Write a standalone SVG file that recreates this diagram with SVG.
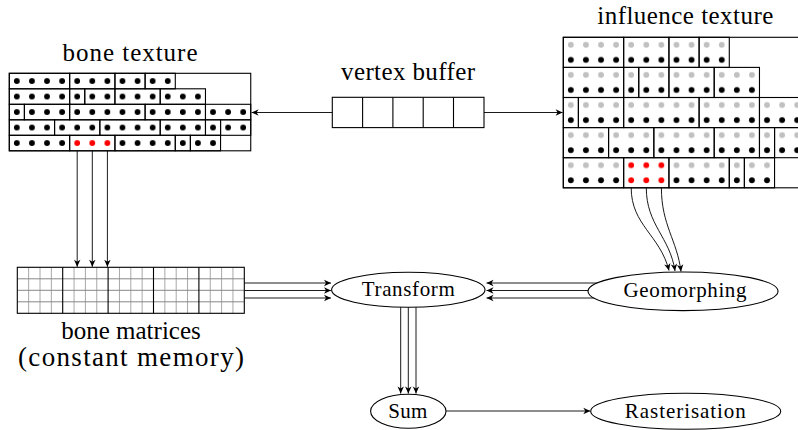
<svg xmlns="http://www.w3.org/2000/svg" width="798" height="430" viewBox="0 0 798 430">
  <style>
    text { font-family: "Liberation Serif", serif; fill: #000; text-anchor: middle; }
    .lbl { font-size: 25px; }
    .nl { font-size: 21px; }
    .box { fill: none; stroke: #000; stroke-width: 1.1; }
    .ell { fill: #fff; stroke: #000; stroke-width: 1.1; }
    .edge { fill: none; stroke: #000; stroke-width: 0.9; marker-end: url(#ah); }
  </style>
  <defs>
    <!-- one dot per texel; bone texture rows are 15.5 high -->
    <pattern id="bonePat" patternUnits="userSpaceOnUse" x="9.3" y="73.3" width="15.09" height="15.5">
      <circle cx="7.545" cy="7.75" r="2.9" fill="#000"/>
    </pattern>
    <pattern id="boneRed" patternUnits="userSpaceOnUse" x="9.3" y="73.3" width="15.09" height="15.5">
      <circle cx="7.545" cy="7.75" r="2.9" fill="#f00"/>
    </pattern>
    <!-- influence texels: weight (grey) over index (black) -->
    <pattern id="inflPat" patternUnits="userSpaceOnUse" x="563.3" y="37.3" width="15.09" height="30.1">
      <circle cx="7.545" cy="7.5" r="2.9" fill="#c0c0c0"/>
      <circle cx="7.545" cy="22.5" r="2.9" fill="#000"/>
    </pattern>
    <pattern id="inflRed" patternUnits="userSpaceOnUse" x="563.3" y="37.3" width="15.09" height="30.1">
      <circle cx="7.545" cy="7.5" r="2.9" fill="#f00"/>
      <circle cx="7.545" cy="22.5" r="2.9" fill="#f00"/>
    </pattern>
    <marker id="ah" viewBox="-8 -4 9 8" refX="0" refY="0" markerWidth="9" markerHeight="8" markerUnits="userSpaceOnUse" orient="auto">
      <path d="M0,0 L-7,-3.2 L-5,0 L-7,3.2 Z" fill="#000"/>
    </marker>
  </defs>

  <rect width="798" height="430" fill="#fff"/>

  <g id="connectors">
    <path class="edge" d="M332.3,112.5 H251.6"/>
    <path class="edge" d="M484,112.5 H562.6"/>
    <path class="edge" d="M77.2,150.8 V266.8"/>
    <path class="edge" d="M92.3,150.8 V266.8"/>
    <path class="edge" d="M107.4,150.8 V266.8"/>
    <path class="edge" d="M244.3,283 H331"/>
    <path class="edge" d="M244.3,290.5 H331"/>
    <path class="edge" d="M244.3,298 H331"/>
    <path class="edge" d="M600,283 H486.5"/>
    <path class="edge" d="M600,290.5 H486.5"/>
    <path class="edge" d="M600,298 H486.5"/>
    <path class="edge" d="M400.7,300 V393.6"/>
    <path class="edge" d="M408.3,300 V393.6"/>
    <path class="edge" d="M416,300 V393.6"/>
    <path class="edge" d="M631.2,187.8 C631.2,225 660,235 669,270.5"/>
    <path class="edge" d="M646.3,187.8 C646.3,225 670,237 675,271"/>
    <path class="edge" d="M661.4,187.8 C661.4,225 677,240 681,271.5"/>
    <path class="edge" d="M446,411 H590.3"/>
  </g>

  <g id="bone-texture">
    <text class="lbl" x="130" y="60.5" textLength="135" lengthAdjust="spacing">bone texture</text>
    <g fill="url(#bonePat)" stroke="#000" stroke-width="1.1">
      <rect x="9.3" y="73.3" width="60.36" height="15.5"/>
      <rect x="69.66" y="73.3" width="45.27" height="15.5"/>
      <rect x="114.93" y="73.3" width="30.18" height="15.5"/>
      <rect x="145.11" y="73.3" width="30.18" height="15.5"/>
      <rect x="9.3" y="88.8" width="60.36" height="15.5"/>
      <rect x="69.66" y="88.8" width="15.09" height="15.5"/>
      <rect x="84.75" y="88.8" width="30.18" height="15.5"/>
      <rect x="114.93" y="88.8" width="45.27" height="15.5"/>
      <rect x="160.2" y="88.8" width="45.27" height="15.5"/>
      <rect x="9.3" y="104.3" width="15.09" height="15.5"/>
      <rect x="24.39" y="104.3" width="45.27" height="15.5"/>
      <rect x="69.66" y="104.3" width="75.45" height="15.5"/>
      <rect x="145.11" y="104.3" width="60.36" height="15.5"/>
      <rect x="205.47" y="104.3" width="45.27" height="15.5"/>
      <rect x="9.3" y="119.8" width="45.27" height="15.5"/>
      <rect x="54.57" y="119.8" width="45.27" height="15.5"/>
      <rect x="99.84" y="119.8" width="60.36" height="15.5"/>
      <rect x="160.2" y="119.8" width="45.27" height="15.5"/>
      <rect x="205.47" y="119.8" width="15.09" height="15.5"/>
      <rect x="220.56" y="119.8" width="30.18" height="15.5"/>
      <rect x="9.3" y="135.3" width="60.36" height="15.5"/>
      <rect x="69.66" y="135.3" width="45.27" height="15.5" fill="url(#boneRed)"/>
      <rect x="114.93" y="135.3" width="60.36" height="15.5"/>
      <rect x="175.29" y="135.3" width="15.09" height="15.5"/>
      <rect x="190.38" y="135.3" width="30.18" height="15.5"/>
    </g>
    <rect class="box" x="9.3" y="73.3" width="241.44" height="77.5"/>
  </g>

  <g id="vertex-buffer">
    <text class="lbl" x="408" y="80" textLength="134" lengthAdjust="spacing">vertex buffer</text>
    <rect class="box" x="332.3" y="97.3" width="151.7" height="30.3"/>
    <path d="M362.6,97.3 V127.6 M392.9,97.3 V127.6 M423.2,97.3 V127.6 M453.5,97.3 V127.6" stroke="#000" stroke-width="1.1" fill="none"/>
  </g>

  <g id="influence-texture">
    <text class="lbl" x="685.3" y="24.3" textLength="176" lengthAdjust="spacing">influence texture</text>
    <g fill="url(#inflPat)" stroke="#000" stroke-width="1.1">
      <rect x="563.3" y="37.3" width="60.36" height="30.1"/>
      <rect x="623.66" y="37.3" width="45.27" height="30.1"/>
      <rect x="668.93" y="37.3" width="30.18" height="30.1"/>
      <rect x="699.11" y="37.3" width="30.18" height="30.1"/>
      <rect x="563.3" y="67.4" width="60.36" height="30.1"/>
      <rect x="623.66" y="67.4" width="15.09" height="30.1"/>
      <rect x="638.75" y="67.4" width="30.18" height="30.1"/>
      <rect x="668.93" y="67.4" width="45.27" height="30.1"/>
      <rect x="714.2" y="67.4" width="45.27" height="30.1"/>
      <rect x="563.3" y="97.5" width="15.09" height="30.1"/>
      <rect x="578.39" y="97.5" width="45.27" height="30.1"/>
      <rect x="623.66" y="97.5" width="75.45" height="30.1"/>
      <rect x="699.11" y="97.5" width="60.36" height="30.1"/>
      <rect x="759.47" y="97.5" width="45.27" height="30.1"/>
      <rect x="563.3" y="127.6" width="45.27" height="30.1"/>
      <rect x="608.57" y="127.6" width="45.27" height="30.1"/>
      <rect x="653.84" y="127.6" width="60.36" height="30.1"/>
      <rect x="714.2" y="127.6" width="45.27" height="30.1"/>
      <rect x="759.47" y="127.6" width="15.09" height="30.1"/>
      <rect x="774.56" y="127.6" width="30.18" height="30.1"/>
      <rect x="563.3" y="157.7" width="60.36" height="30.1"/>
      <rect x="623.66" y="157.7" width="45.27" height="30.1" fill="url(#inflRed)"/>
      <rect x="668.93" y="157.7" width="60.36" height="30.1"/>
      <rect x="729.29" y="157.7" width="15.09" height="30.1"/>
      <rect x="744.38" y="157.7" width="30.18" height="30.1"/>
    </g>
    <rect class="box" x="563.3" y="37.3" width="241.44" height="150.5"/>
  </g>

  <g id="bone-matrices">
    <!-- 5 matrices of 4x4 -->
    <path d="M28.65,267.3 V313.3 M40,267.3 V313.3 M51.35,267.3 V313.3 M74.05,267.3 V313.3 M85.4,267.3 V313.3 M96.75,267.3 V313.3 M119.45,267.3 V313.3 M130.8,267.3 V313.3 M142.15,267.3 V313.3 M164.85,267.3 V313.3 M176.2,267.3 V313.3 M187.55,267.3 V313.3 M210.25,267.3 V313.3 M221.6,267.3 V313.3 M232.95,267.3 V313.3" stroke="#a8a8a8" stroke-width="1" fill="none"/>
    <path d="M17.3,278.8 H244.3 M17.3,290.3 H244.3 M17.3,301.8 H244.3" stroke="#888" stroke-width="1" fill="none"/>
    <path d="M62.7,267.3 V313.3 M108.1,267.3 V313.3 M153.5,267.3 V313.3 M198.9,267.3 V313.3" stroke="#000" stroke-width="1.1" fill="none"/>
    <rect class="box" x="17.3" y="267.3" width="227" height="46"/>
    <text class="lbl" x="131" y="339">bone matrices</text>
    <text class="lbl" x="131" y="366" style="font-size:27px" textLength="226" lengthAdjust="spacing">(constant memory)</text>
  </g>

  <g id="transform">
    <ellipse class="ell" cx="408.3" cy="289.8" rx="76.7" ry="17.5"/>
    <text class="nl" x="408.3" y="296" textLength="93" lengthAdjust="spacing">Transform</text>
  </g>

  <g id="geomorphing">
    <ellipse class="ell" cx="683" cy="291.3" rx="95" ry="19.3"/>
    <text class="nl" x="685" y="296.5" textLength="123" lengthAdjust="spacing">Geomorphing</text>
  </g>

  <g id="sum">
    <ellipse class="ell" cx="408.3" cy="411.3" rx="37.7" ry="17"/>
    <text class="nl" x="407.8" y="418.3" textLength="39" lengthAdjust="spacing">Sum</text>
  </g>

  <g id="rasterisation">
    <ellipse class="ell" cx="685.7" cy="411.3" rx="95" ry="18"/>
    <text class="nl" x="685.3" y="418.3" textLength="121" lengthAdjust="spacing">Rasterisation</text>
  </g>
</svg>
